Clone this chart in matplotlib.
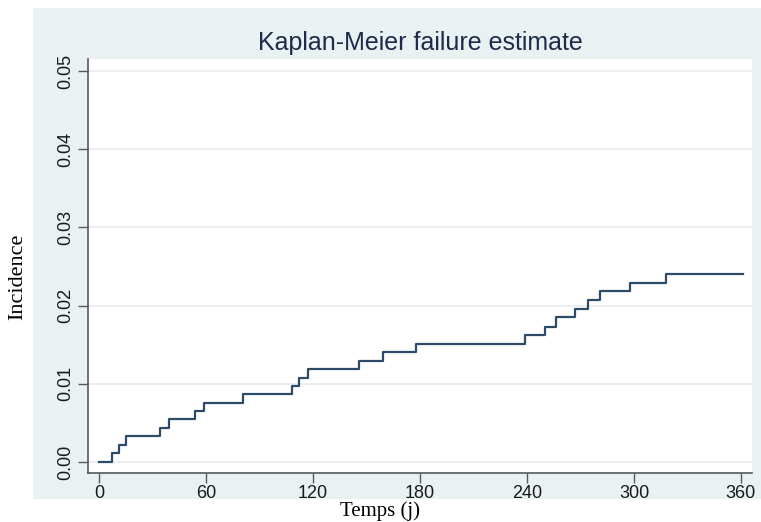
import matplotlib
matplotlib.use("Agg")
import matplotlib.pyplot as plt
from matplotlib.patches import Rectangle

# time of each step (days) and the cumulative incidence after it
step_days = [0, 7, 11, 15, 34, 39, 54, 59, 81, 108, 112, 117, 146, 159, 178,
             239, 250, 256, 267, 274, 281, 298, 318, 361]
incidence = [0.0, 0.0011, 0.0022, 0.0033, 0.0044, 0.0055, 0.0065, 0.0076,
             0.0087, 0.0097, 0.0108, 0.0119, 0.0129, 0.0141, 0.0151, 0.0162,
             0.0173, 0.0185, 0.0195, 0.0207, 0.0218, 0.0229, 0.0240, 0.0240]

x_ticks = [0, 60, 120, 180, 240, 300, 360]
y_ticks = [0.00, 0.01, 0.02, 0.03, 0.04, 0.05]

TITLE = "Kaplan-Meier failure estimate"
X_LABEL = "Temps (j)"
Y_LABEL = "Incidence"

BACK_COLOR = "#eaf1f3"
LINE_COLOR = "#2d4b66"
GRID_COLOR = "#e6eced"
AXIS_COLOR = "#555a5e"


def plot_data() -> None:
    """ Draw the Stata style step curve of failure over time
    """
    fig = plt.figure(figsize=(7.61, 5.22), dpi=100)
    fig.patch.set_facecolor("white")

    # the light blue-gray graph region behind the plot
    fig.patches.append(Rectangle((0.0434, 0.044), 0.9566, 0.941,
                                 transform=fig.transFigure,
                                 facecolor=BACK_COLOR, edgecolor="none",
                                 zorder=-1))

    ax = fig.add_axes([0.1156, 0.0939, 0.8726, 0.7931])
    ax.set_zorder(1)
    ax.set_facecolor("white")

    ax.step(step_days, incidence, where="post", color=LINE_COLOR,
            linewidth=1.6, zorder=3)

    ax.set_xlim(-6.2, 366.2)
    ax.set_ylim(-0.00141, 0.05153)

    ax.set_xticks(x_ticks)
    ax.set_yticks(y_ticks)
    ax.set_xticklabels([str(t) for t in x_ticks])
    ax.set_yticklabels(["%.2f" % t for t in y_ticks], rotation=90,
                       va="center")

    for label in ax.get_xticklabels() + ax.get_yticklabels():
        label.set_family("Liberation Sans")
        label.set_fontsize(13)
        label.set_color("#1a1a1a")

    ax.tick_params(direction="out", length=7, width=1, color=AXIS_COLOR)
    ax.tick_params(axis="x", pad=2)
    ax.tick_params(axis="y", pad=3)

    # horizontal gridlines only
    ax.yaxis.grid(True, color=GRID_COLOR, linewidth=1.2, zorder=1)
    ax.xaxis.grid(False)
    ax.set_axisbelow(True)

    for side in ["top", "right"]:
        ax.spines[side].set_visible(False)
    for side in ["left", "bottom"]:
        ax.spines[side].set_color(AXIS_COLOR)
        ax.spines[side].set_linewidth(1.2)

    fig.text(0.552, 0.917, TITLE, ha="center", va="center",
             fontsize=18, family="Liberation Sans", color="#1e2b4a")
    fig.text(0.5, 0.021, X_LABEL, ha="center", va="center",
             fontsize=15, family="Liberation Serif", color="black")
    fig.text(0.023, 0.469, Y_LABEL, ha="center", va="center", rotation=90,
             fontsize=16, family="Liberation Serif", color="black")

    fig.savefig("out.png", dpi=100)


if __name__ == "__main__":
    plot_data()
